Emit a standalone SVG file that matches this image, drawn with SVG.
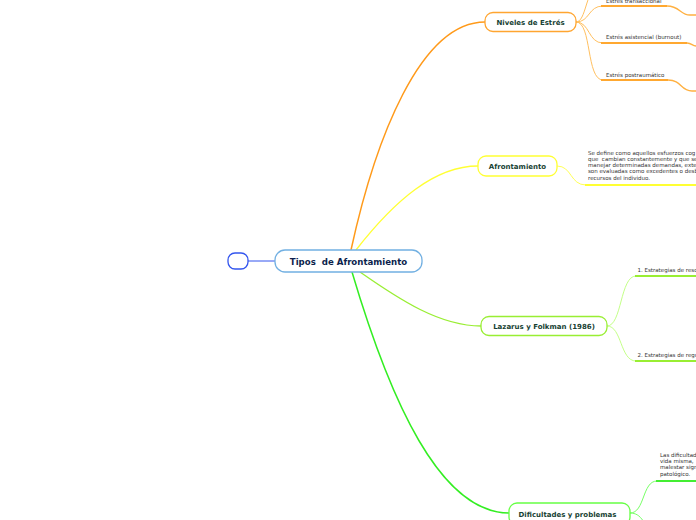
<svg xmlns="http://www.w3.org/2000/svg" width="696" height="520" viewBox="0 0 696 520">
<style>
.bg{fill:#ffffff}
.node{fill:#ffffff;stroke-width:1.3}
.nt{font-family:"DejaVu Sans",Verdana,sans-serif;font-weight:bold;font-size:7px;fill:#173f33;text-anchor:middle}
.ct{font-family:"DejaVu Sans",Verdana,sans-serif;font-weight:bold;font-size:8.6px;fill:#0d1f4d;text-anchor:middle;white-space:pre}
.st{font-family:"DejaVu Sans",Verdana,sans-serif;font-size:5.5px;fill:#333333;white-space:pre}
.c{fill:none}
.ul{fill:none;stroke-width:2}
</style>
<rect class="bg" x="0" y="0" width="696" height="520"/>
<g id="connectors">
  <line x1="248" y1="261" x2="275" y2="261" stroke="#3355ee" stroke-width="1"/>
  <path class="c" d="M351,250 C375,140 420,22 485,22" stroke="#ff9a1a" stroke-width="1.5"/>
  <path class="c" d="M356,250 C395,200 435,166 478,166" stroke="#ffff33" stroke-width="1.3"/>
  <path class="c" d="M360,272 C400,300 440,326 481,326" stroke="#99ee33" stroke-width="1.3"/>
  <path class="c" d="M352,272 C390,400 440,513 509,513" stroke="#33ee22" stroke-width="1.5"/>
  <path class="c" d="M576,22 C586,22 586,-10 596,-10" stroke="#ffc060" stroke-width="1"/>
  <path class="c" d="M576,22 C590,22 588,6 603,6" stroke="#ffc060" stroke-width="1"/>
  <path class="ul" d="M601,6 L667,6" stroke="#ffa830"/>
  <path class="c" d="M667,6 C680,6 680,15 690,15 L696,15" stroke="#ffb040" stroke-width="1.3"/>
  <path class="c" d="M576,22 C590,22 588,43 603,43" stroke="#ffc060" stroke-width="1"/>
  <path class="ul" d="M601,43 L687,43" stroke="#ffa830"/>
  <path class="c" d="M687,43 C692,43 692,46 696,46" stroke="#ffb040" stroke-width="1.3"/>
  <path class="c" d="M576,22 C592,22 586,80 603,80" stroke="#ffc060" stroke-width="1"/>
  <path class="ul" d="M601,80 L668,80" stroke="#ffa830"/>
  <path class="c" d="M668,80 C682,80 680,91 692,91 L696,91" stroke="#ffb040" stroke-width="1.3"/>
  <path class="c" d="M557,166 C572,166 570,185 586,185" stroke="#ffff55" stroke-width="1"/>
  <path class="ul" d="M585,185 L696,185" stroke="#ffff33"/>
  <path class="c" d="M607,326 C622,326 620,276 636,276" stroke="#c4ff88" stroke-width="1"/>
  <path class="ul" d="M635,276 L696,276" stroke="#99ee33"/>
  <path class="c" d="M607,326 C622,326 620,361 636,361" stroke="#c4ff88" stroke-width="1"/>
  <path class="ul" d="M635,361 L696,361" stroke="#99ee33"/>
  <path class="c" d="M630,513 C645,513 642,481 657,481" stroke="#77ff66" stroke-width="1"/>
  <path class="ul" d="M656,481 L696,481" stroke="#44ee33"/>
  <path class="c" d="M630,513 C638,513 641,518 644,522" stroke="#77ff66" stroke-width="1"/>
</g>
<g id="node-empty">
  <rect class="node" x="228" y="253" width="20" height="16" rx="7" stroke="#3355ee"/>
</g>
<g id="node-central">
  <rect class="node" x="275" y="250" width="147" height="22" rx="10" stroke="#72b0e2"/>
  <text class="ct" x="348.5" y="264.5">Tipos  de Afrontamiento</text>
</g>
<g id="node-niveles">
  <rect class="node" x="485" y="12.5" width="91" height="19" rx="8" stroke="#ffa530"/>
  <text class="nt" x="530.5" y="24.5">Niveles de Estrés</text>
</g>
<g id="node-afrontamiento">
  <rect class="node" x="478" y="156" width="79" height="20" rx="8" stroke="#ffff33"/>
  <text class="nt" x="517.5" y="168.5">Afrontamiento</text>
</g>
<g id="node-lazarus">
  <rect class="node" x="481" y="316.5" width="126" height="19" rx="8" stroke="#99ee33"/>
  <text class="nt" x="544" y="328.5">Lazarus y Folkman (1986)</text>
</g>
<g id="node-dificultades">
  <rect class="node" x="509" y="503" width="121" height="22" rx="8" stroke="#66ff44"/>
  <text class="nt" x="567.5" y="516.5">Dificultades y problemas</text>
</g>
<g id="leaf-transaccional">
  <text class="st" x="606" y="2.5">Estrés transaccional</text>
</g>
<g id="leaf-asistencial">
  <text class="st" x="606" y="39">Estrés asistencial (burnout)</text>
</g>
<g id="leaf-postraumatico">
  <text class="st" x="606" y="76.5">Estrés postraumático</text>
</g>
<g id="leaf-definicion">
  <text class="st" x="588" y="154.5">Se define como aquellos esfuerzos cog</text>
  <text class="st" x="588" y="160.5">que  cambian constantemente y que se</text>
  <text class="st" x="588" y="166.5">manejar determinadas demandas, exte</text>
  <text class="st" x="588" y="172.5">son evaluadas como excedentes o desb</text>
  <text class="st" x="588" y="179.5">recursos del individuo.</text>
</g>
<g id="leaf-estrategias1">
  <text class="st" x="637.5" y="272">1. Estrategias de reso</text>
</g>
<g id="leaf-estrategias2">
  <text class="st" x="637.5" y="357">2. Estrategias de regu</text>
</g>
<g id="leaf-dificultades">
  <text class="st" x="660" y="457">Las dificultad</text>
  <text class="st" x="660" y="463">vida misma,</text>
  <text class="st" x="660" y="469">malestar sign</text>
  <text class="st" x="660" y="475.5">patológico.</text>
</g>
</svg>
